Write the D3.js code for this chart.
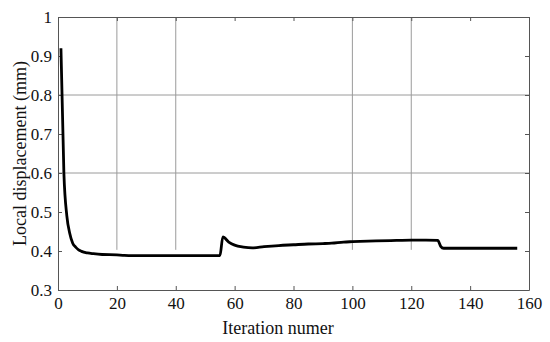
<!DOCTYPE html>
<html>
<head>
<meta charset="utf-8">
<script src="https://cdn.jsdelivr.net/npm/d3@7"></script>
<style>
  body { margin: 0; background: #fff; }
  svg { display: block; }
</style>
</head>
<body>
<svg id="chart" width="550" height="342"></svg>
<script>
// iteration number vs local displacement
var iterations = [1, 2, 3, 4, 5, 6, 7, 8, 10, 12, 15, 20, 22, 25, 30, 40, 50, 55, 56, 58, 60, 63, 66, 70, 75, 80, 85, 90, 93, 97, 100, 108, 115, 120, 125, 129, 130, 131, 140, 150, 156]
var displacement = [0.92, 0.60, 0.49, 0.445, 0.42, 0.41, 0.403, 0.399, 0.395, 0.393, 0.391, 0.390, 0.389, 0.388, 0.388, 0.388, 0.388, 0.388, 0.436, 0.423, 0.415, 0.410, 0.408, 0.411, 0.414, 0.416, 0.418, 0.419, 0.420, 0.423, 0.424, 0.426, 0.427, 0.428, 0.428, 0.427, 0.412, 0.407, 0.407, 0.407, 0.407]

var xTicks = [0, 20, 40, 60, 80, 100, 120, 140, 160]
var yTicks = [0.3, 0.4, 0.5, 0.6, 0.7, 0.8, 0.9, 1]
var gridX = [20, 40, 100, 120]
var gridY = [0.6, 0.8]

var dimensions = {
    width: 550,
    height: 342,
    margin: { top: 17, bottom: 52, right: 21, left: 58 }
}

var svg = d3.select("#chart")
var fontFamily = "'Liberation Serif', 'Times New Roman', serif"

var xScale = d3.scaleLinear()
    .domain([0, 160])
    .range([dimensions.margin.left, dimensions.width - dimensions.margin.right])

var yScale = d3.scaleLinear()
    .domain([0.3, 1])
    .range([dimensions.height - dimensions.margin.bottom, dimensions.margin.top])

var x0 = xScale.range()[0], x1 = xScale.range()[1]
var y0 = yScale.range()[0], y1 = yScale.range()[1]

// partial grid lines
svg.append("g").selectAll("line")
    .data(gridX)
    .enter()
    .append("line")
    .attr("x1", d => xScale(d))
    .attr("x2", d => xScale(d))
    .attr("y1", y1)
    .attr("y2", yScale(0.403))
    .style("stroke", "#9a9a9a")
    .style("stroke-width", 1)

svg.append("g").selectAll("line")
    .data(gridY)
    .enter()
    .append("line")
    .attr("x1", x0)
    .attr("x2", x1)
    .attr("y1", d => yScale(d))
    .attr("y2", d => yScale(d))
    .style("stroke", "#9a9a9a")
    .style("stroke-width", 1)

// axes with inward ticks
var tickLen = 4
var xAxisB = svg.append("g")
    .attr("transform", `translate(0,${y0})`)
    .call(d3.axisBottom(xScale).tickValues(xTicks).tickSizeInner(-tickLen).tickSizeOuter(0).tickPadding(7).tickFormat(d3.format("d")))
var xAxisT = svg.append("g")
    .attr("transform", `translate(0,${y1})`)
    .call(d3.axisTop(xScale).tickValues(xTicks).tickSizeInner(-tickLen).tickSizeOuter(0).tickFormat(""))
var yAxisL = svg.append("g")
    .attr("transform", `translate(${x0},0)`)
    .call(d3.axisLeft(yScale).tickValues(yTicks).tickSizeInner(-tickLen).tickSizeOuter(0).tickPadding(6).tickFormat(d => d === 1 ? "1" : d3.format(".1f")(d)))
var yAxisR = svg.append("g")
    .attr("transform", `translate(${x1},0)`)
    .call(d3.axisRight(yScale).tickValues(yTicks).tickSizeInner(-tickLen).tickSizeOuter(0).tickFormat(""))

svg.selectAll(".domain").style("stroke", "#555")
svg.selectAll(".tick line").style("stroke", "#555")
svg.selectAll(".tick text")
    .style("font-family", fontFamily)
    .style("font-size", "17px")
    .style("fill", "#111")

var line = d3.line()
    .x((d, i) => xScale(iterations[i]))
    .y(d => yScale(d))
    .curve(d3.curveMonotoneX)

svg.append("path")
    .datum(displacement)
    .attr("d", line)
    .style("fill", "none")
    .style("stroke", "#000")
    .style("stroke-width", 2.8)

svg.append("text")
    .attr("x", 278)
    .attr("y", 334)
    .style("text-anchor", "middle")
    .style("font-family", fontFamily)
    .style("font-size", "18px")
    .style("fill", "#111")
    .text("Iteration numer")

svg.append("text")
    .attr("transform", "translate(26," + ((y0 + y1) / 2) + ")rotate(-90)")
    .style("text-anchor", "middle")
    .style("font-family", fontFamily)
    .style("font-size", "18px")
    .style("fill", "#111")
    .text("Local displacement (mm)")
</script>
</body>
</html>
